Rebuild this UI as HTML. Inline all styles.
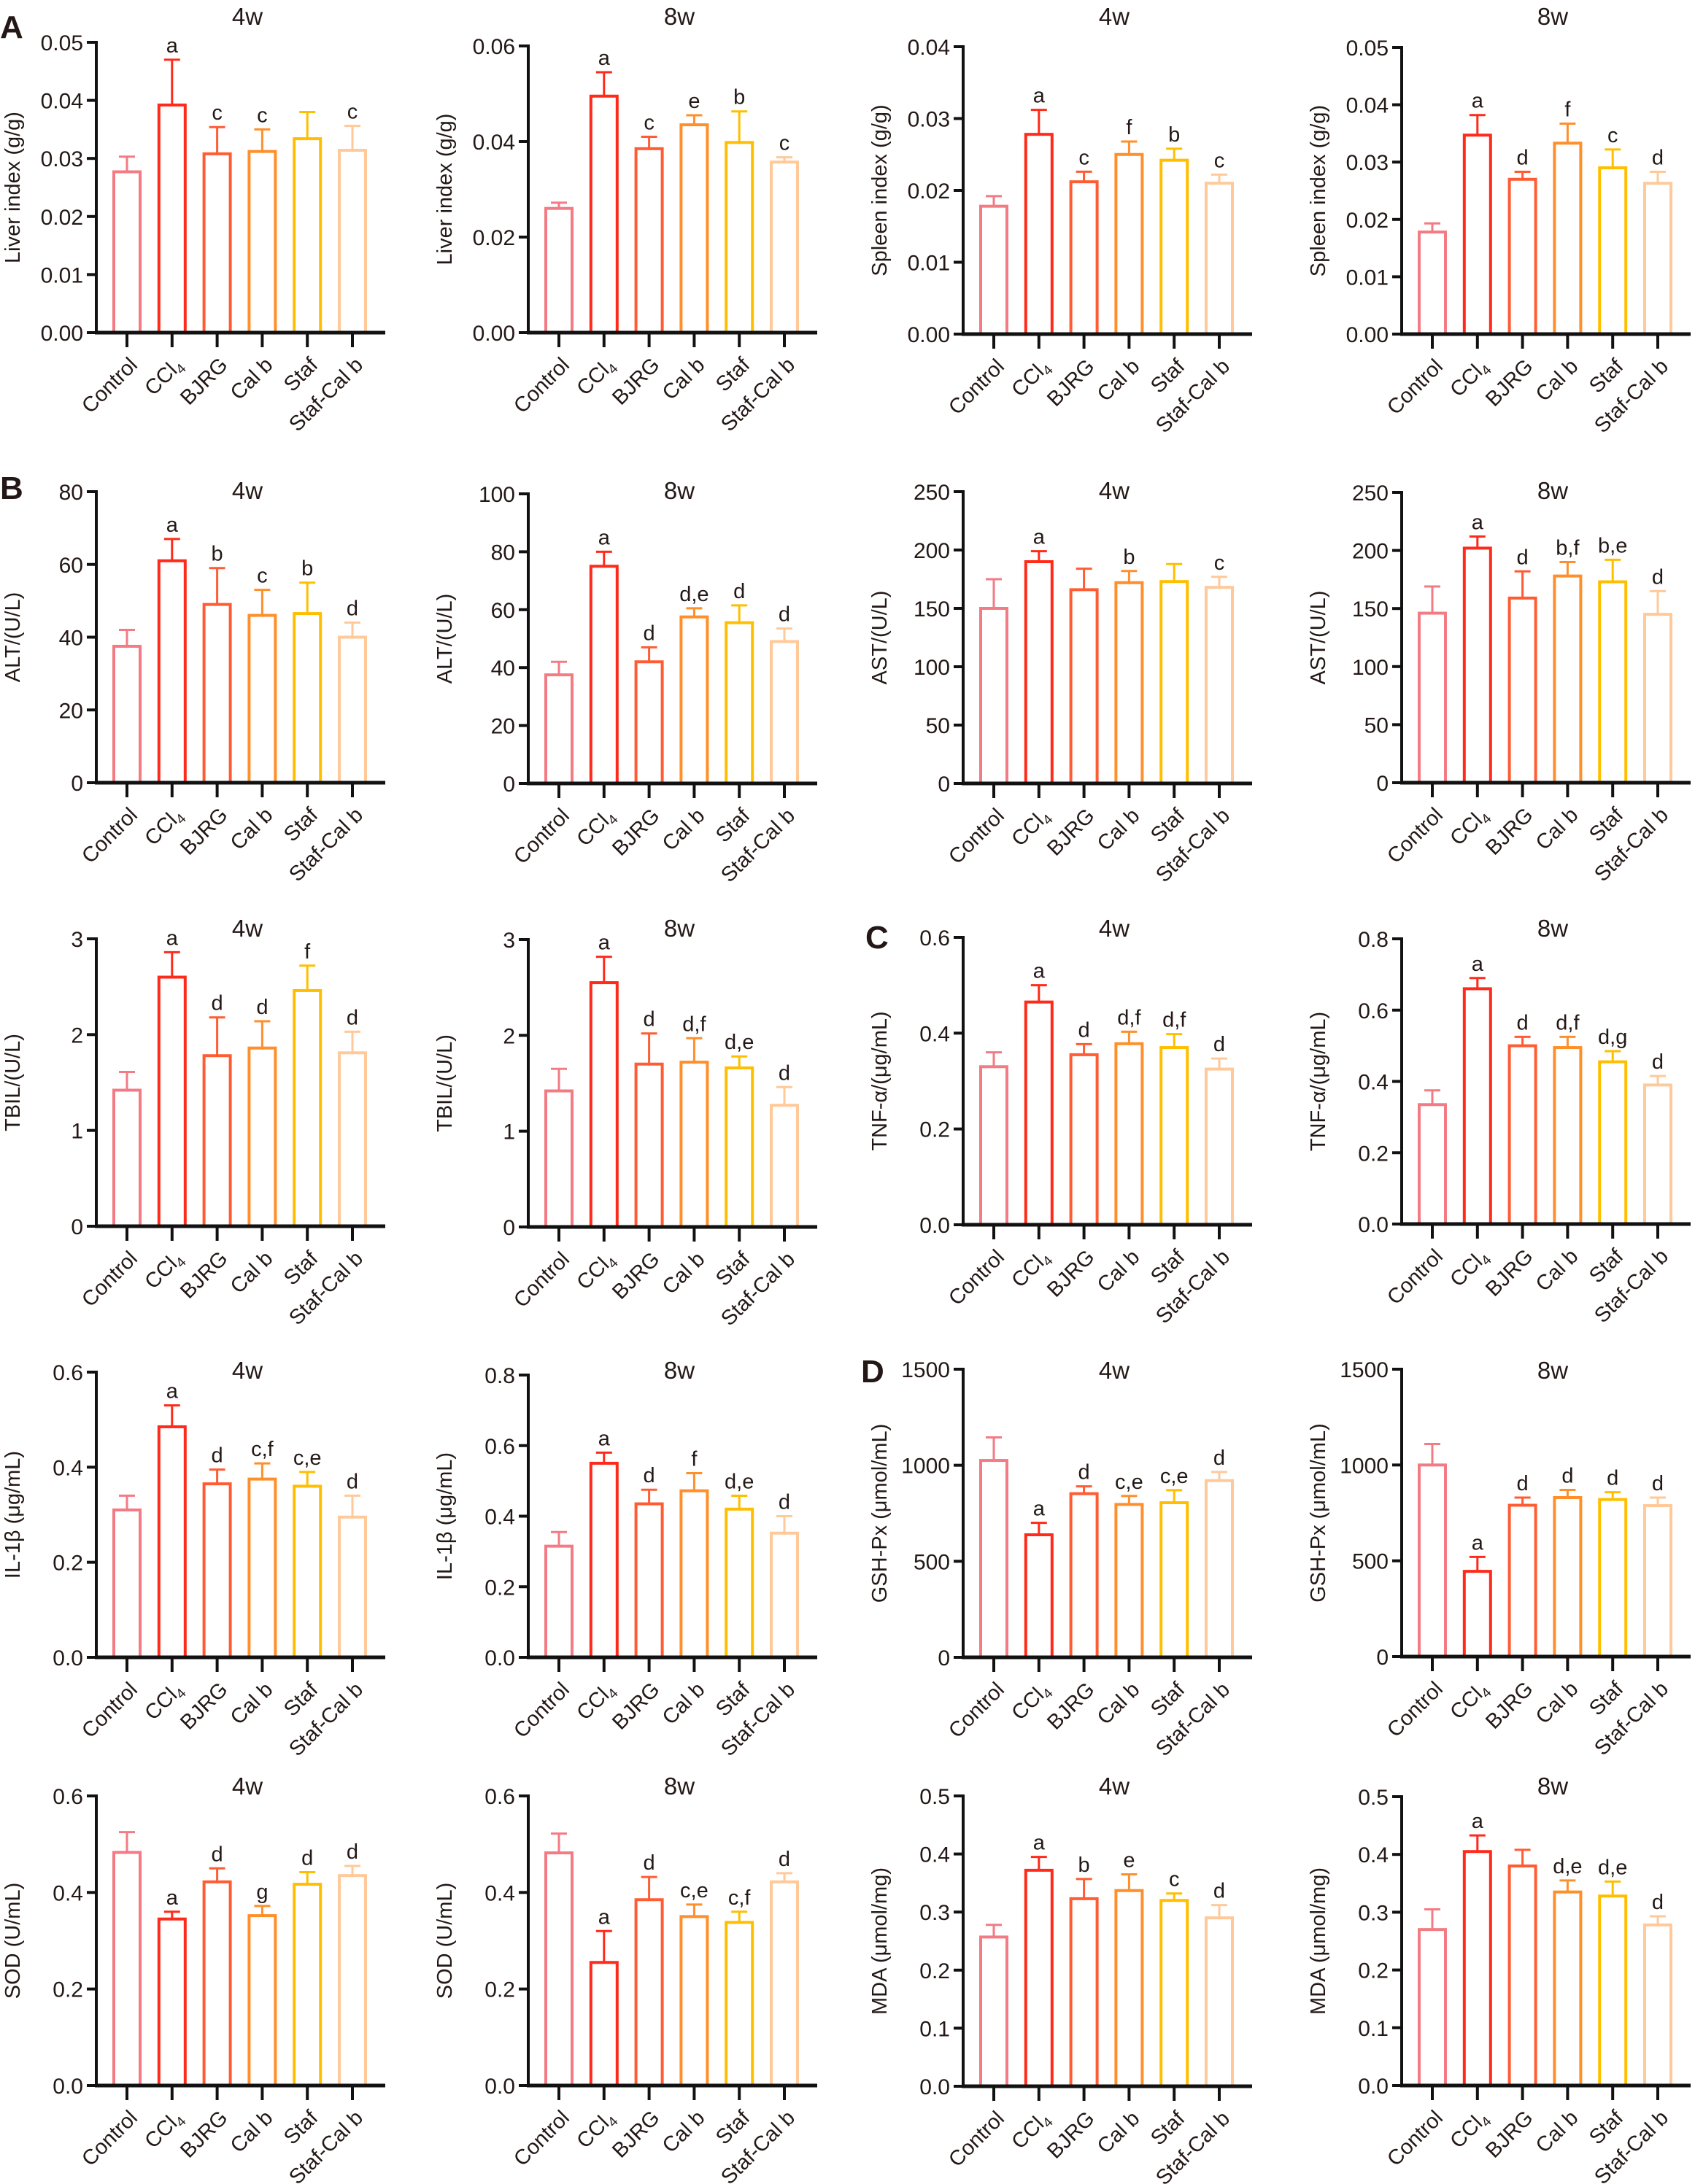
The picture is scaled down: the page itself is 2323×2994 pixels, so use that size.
<!DOCTYPE html>
<html><head><meta charset="utf-8"><style>
html,body{margin:0;padding:0;background:#fff}
svg{display:block}
text{font-family:"Liberation Sans","DejaVu Sans",sans-serif;fill:#231815}
</style></head><body>
<svg id="s" width="2323" height="2994" viewBox="0 0 2323 2994" xmlns="http://www.w3.org/2000/svg">
<text x="0" y="52" font-size="44" font-weight="bold">A</text>
<text x="0" y="684" font-size="44" font-weight="bold">B</text>
<text x="1186" y="1300" font-size="44" font-weight="bold">C</text>
<text x="1180" y="1895" font-size="44" font-weight="bold">D</text>
</svg>
<script>
var cols=["#f27b84","#ff2a1a","#ff5c33","#ff8f2a","#ffbf00","#ffc99a"];
var names=["Control","CCl","BJRG","Cal b","Staf","Staf-Cal b"];
var P=[
[132,58,456,"4w",22,"Liver index (g/g)",0.05,0.01,2,[0.0277,0.0392,0.0308,0.0312,0.0334,0.0314],[0.0303,0.047,0.0354,0.035,0.038,0.0356],["","a","c","c","","c"]],
[724,63,456,"8w",22,"Liver index (g/g)",0.06,0.02,2,[0.026,0.0495,0.0385,0.0435,0.0398,0.0357],[0.0272,0.0545,0.041,0.0455,0.0463,0.0367],["","a","c","e","b","c"]],
[1320,64,458,"4w",22,"Spleen index (g/g)",0.04,0.01,2,[0.0178,0.0278,0.0212,0.025,0.0242,0.021],[0.0192,0.0312,0.0226,0.0268,0.0258,0.0222],["","a","c","f","b","c"]],
[1921,65,458,"8w",22,"Spleen index (g/g)",0.05,0.01,2,[0.0178,0.0347,0.027,0.0333,0.029,0.0263],[0.0193,0.0382,0.0283,0.0367,0.0322,0.0283],["","a","d","f","c","d"]],
[132,674,1073,"4w",672,"ALT/(U/L)",80,20,0,[37.5,61,49,46,46.5,40],[42,67,59,53,55,44],["","a","b","c","b","d"]],
[724,677,1074,"8w",672,"ALT/(U/L)",100,20,0,[37.5,75,42,57.5,55.5,49],[42,80,47,60.5,61.5,53.5],["","a","d","d,e","d","d"]],
[1320,674,1074,"4w",672,"AST/(U/L)",250,50,0,[150,190,166,172,173,168],[175,199,184,182,188,177],["","a","","b","","c"]],
[1921,675,1073,"8w",672,"AST/(U/L)",250,50,0,[146,202,159,178,173,145],[169,212,182,190,192,165],["","a","d","b,f","b,e","d"]],
[132,1287,1681,"4w",1272,"TBIL/(U/L)",3,1,0,[1.42,2.6,1.78,1.86,2.46,1.81],[1.61,2.86,2.18,2.14,2.72,2.03],["","a","d","d","f","d"]],
[724,1288,1682,"8w",1272,"TBIL/(U/L)",3,1,0,[1.42,2.55,1.7,1.72,1.66,1.27],[1.65,2.82,2.02,1.97,1.78,1.46],["","a","d","d,f","d,e","d"]],
[1320,1285,1679,"4w",1272,"TNF-α/(μg/mL)",0.6,0.2,1,[0.33,0.465,0.355,0.378,0.37,0.325],[0.36,0.5,0.377,0.403,0.398,0.347],["","a","d","d,f","d,f","d"]],
[1921,1287,1678,"8w",1272,"TNF-α/(μg/mL)",0.8,0.2,1,[0.335,0.66,0.5,0.495,0.455,0.39],[0.375,0.69,0.525,0.525,0.485,0.415],["","a","d","d,f","d,g","d"]],
[132,1881,2272,"4w",1878,"IL-1β (μg/mL)",0.6,0.2,1,[0.31,0.485,0.365,0.375,0.36,0.295],[0.34,0.53,0.395,0.408,0.39,0.34],["","a","d","c,f","c,e","d"]],
[724,1885,2272,"8w",1878,"IL-1β (μg/mL)",0.8,0.2,1,[0.315,0.55,0.435,0.472,0.42,0.352],[0.355,0.58,0.475,0.522,0.458,0.4],["","a","d","f","d,e","d"]],
[1320,1877,2272,"4w",1878,"GSH-Px (μmol/mL)",1500,500,0,[1025,638,852,796,805,920],[1145,700,890,840,870,965],["","a","d","c,e","c,e","d"]],
[1921,1877,2271,"8w",1878,"GSH-Px (μmol/mL)",1500,500,0,[1000,445,790,830,820,788],[1110,520,830,870,858,830],["","a","d","d","d","d"]],
[132,2462,2859,"4w",2448,"SOD (U/mL)",0.6,0.2,1,[0.483,0.345,0.422,0.352,0.417,0.435],[0.525,0.36,0.45,0.372,0.442,0.455],["","a","d","g","d","d"]],
[724,2462,2859,"8w",2448,"SOD (U/mL)",0.6,0.2,1,[0.482,0.255,0.385,0.35,0.338,0.422],[0.522,0.32,0.432,0.375,0.36,0.44],["","a","d","c,e","c,f","d"]],
[1320,2462,2860,"4w",2448,"MDA (μmol/mg)",0.5,0.1,1,[0.257,0.372,0.323,0.337,0.32,0.29],[0.278,0.395,0.357,0.365,0.332,0.312],["","a","b","e","c","d"]],
[1921,2463,2859,"8w",2448,"MDA (μmol/mg)",0.5,0.1,1,[0.27,0.405,0.38,0.335,0.328,0.278],[0.305,0.433,0.408,0.355,0.353,0.293],["","a","","d,e","d,e","d"]]
];
var h="";
P.forEach(function(p){
 var ox=p[0],top=p[1],zero=p[2],max=p[6],st=p[7],dec=p[8];
 function Y(v){return zero-(zero-top)*v/max;}
 h+='<text x="'+(ox+207)+'" y="'+(p[4]+12)+'" font-size="33" text-anchor="middle">'+p[3]+'</text>';
 var n=Math.round(max/st);
 for(var i=0;i<=n;i++){var v=i*st,y=Y(v);
  h+='<line x1="'+(ox-13)+'" y1="'+y+'" x2="'+ox+'" y2="'+y+'" stroke="#111" stroke-width="4"/>';
  h+='<text x="'+(ox-18)+'" y="'+(y+11)+'" font-size="30" text-anchor="end">'+v.toFixed(dec)+'</text>';}
 var cy=(top+zero)/2;
 h+='<text x="0" y="0" font-size="29" text-anchor="middle" transform="translate('+(ox-105)+','+cy+') rotate(-90)">'+p[5]+'</text>';
 for(var k=0;k<6;k++){var cx=ox+42+k*61.8,yv=Y(p[9][k]),ye=Y(p[10][k]);
  h+='<line x1="'+cx+'" y1="'+ye+'" x2="'+cx+'" y2="'+yv+'" stroke="'+cols[k]+'" stroke-width="3"/>';
  h+='<line x1="'+(cx-11)+'" y1="'+ye+'" x2="'+(cx+11)+'" y2="'+ye+'" stroke="'+cols[k]+'" stroke-width="3"/>';
  h+='<rect x="'+(cx-18)+'" y="'+yv+'" width="36" height="'+(zero-yv)+'" fill="#fff" stroke="'+cols[k]+'" stroke-width="4"/>';
  if(p[11][k])h+='<text x="'+cx+'" y="'+(ye-10)+'" font-size="29" text-anchor="middle">'+p[11][k]+'</text>';
  h+='<line x1="'+cx+'" y1="'+zero+'" x2="'+cx+'" y2="'+(zero+20)+'" stroke="#111" stroke-width="4"/>';
  var lab=k==1?'CCl<tspan font-size="19" dy="6">4</tspan>':names[k];
  h+='<text x="0" y="0" font-size="29" text-anchor="end" transform="translate('+(cx+16)+','+(zero+46)+') rotate(-45)">'+lab+'</text>';}
 h+='<line x1="'+ox+'" y1="'+(top-2)+'" x2="'+ox+'" y2="'+zero+'" stroke="#111" stroke-width="4"/>';
 h+='<line x1="'+(ox-2)+'" y1="'+zero+'" x2="'+(ox+396)+'" y2="'+zero+'" stroke="#111" stroke-width="5"/>';
});
document.getElementById("s").insertAdjacentHTML("beforeend",h);
</script>
</body></html>
